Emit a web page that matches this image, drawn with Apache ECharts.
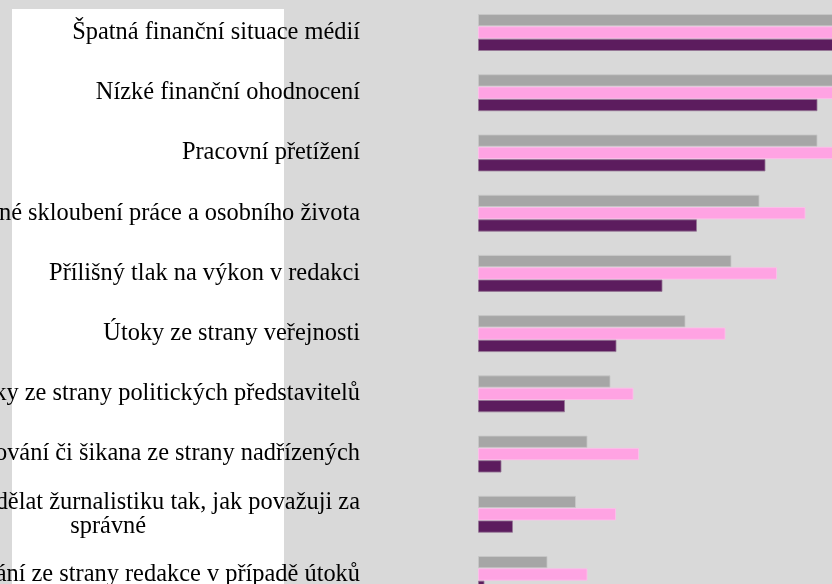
<!DOCTYPE html>
<html>
<head>
<meta charset="utf-8">
<script src="https://cdn.jsdelivr.net/npm/echarts@6/dist/echarts.min.js"></script>
<style>
  html, body { margin: 0; padding: 0; background: #d9d9d9; }
  #chart { width: 832px; height: 584px; }
</style>
</head>
<body>
<div id="chart"></div>
<script>
// kategorie shora dolů
const categories = [
  "Špatná finanční situace médií",
  "Nízké finanční ohodnocení",
  "Pracovní přetížení",
  "Obtížné skloubení práce a osobního života",
  "Přílišný tlak na výkon v redakci",
  "Útoky ze strany veřejnosti",
  "Útoky ze strany politických představitelů",
  "Obtěžování či šikana ze strany nadřízených",
  "Nemožnost dělat žurnalistiku tak, jak považuji za\nsprávné",
  "Nedostatečné zastání ze strany redakce v případě útoků"
];

const seriesGray = [76, 74, 67.9, 56.3, 50.7, 41.5, 26.5, 21.9, 19.6, 13.9];
const seriesPink = [82, 78, 73, 65.5, 59.8, 49.5, 31.1, 32.2, 27.6, 21.9];
const seriesPurple = [74, 67.9, 57.5, 43.8, 36.9, 27.7, 17.4, 4.7, 7.0, 1.3];

const chart = echarts.init(document.getElementById("chart"), null, { renderer: "canvas" });

function labelFmt(value) {
  const parts = value.split("\n");
  if (parts.length === 1) return "{a|" + value + "}";
  return "{a|" + parts[0] + "}\n{c|" + parts[1] + "}";
}

const labelFont = { fontFamily: "Liberation Serif", fontSize: 24.4, color: "#000" };

const option = {
  backgroundColor: "#d9d9d9",
  animation: false,
  graphic: [
    { type: "rect", left: 12, top: 9, shape: { width: 272, height: 600 }, style: { fill: "#ffffff" }, z: -10 }
  ],
  grid: { left: 478, top: 2.4, width: 500, height: 602.2, containLabel: false, outerBoundsMode: "none" },
  xAxis: {
    type: "value",
    min: 0,
    max: 100,
    show: false
  },
  yAxis: {
    type: "category",
    data: categories,
    inverse: true,
    axisLine: { show: false },
    axisTick: { show: false },
    splitLine: { show: false },
    axisLabel: {
      margin: 118,
      align: "right",
      formatter: labelFmt,
      lineHeight: 24,
      rich: {
        a: Object.assign({ lineHeight: 24 }, labelFont),
        c: Object.assign({ lineHeight: 24, align: "center", padding: [0, 22, 0, 0] }, labelFont)
      }
    }
  },
  series: [
    {
      type: "bar",
      data: seriesGray,
      barGap: "0%",
      barCategoryGap: "38.6%",
      itemStyle: { color: "#a6a6a6", borderColor: "rgba(200,200,200,0.8)", borderWidth: 1 }
    },
    {
      type: "bar",
      data: seriesPink,
      barGap: "0%",
      barCategoryGap: "38.6%",
      itemStyle: { color: "#ffa3e3", borderColor: "rgba(255,190,235,0.8)", borderWidth: 1 }
    },
    {
      type: "bar",
      data: seriesPurple,
      barGap: "0%",
      barCategoryGap: "38.6%",
      itemStyle: { color: "#5c1c5e", borderColor: "rgba(150,120,150,0.8)", borderWidth: 1 }
    }
  ]
};

chart.setOption(option);
</script>
</body>
</html>
